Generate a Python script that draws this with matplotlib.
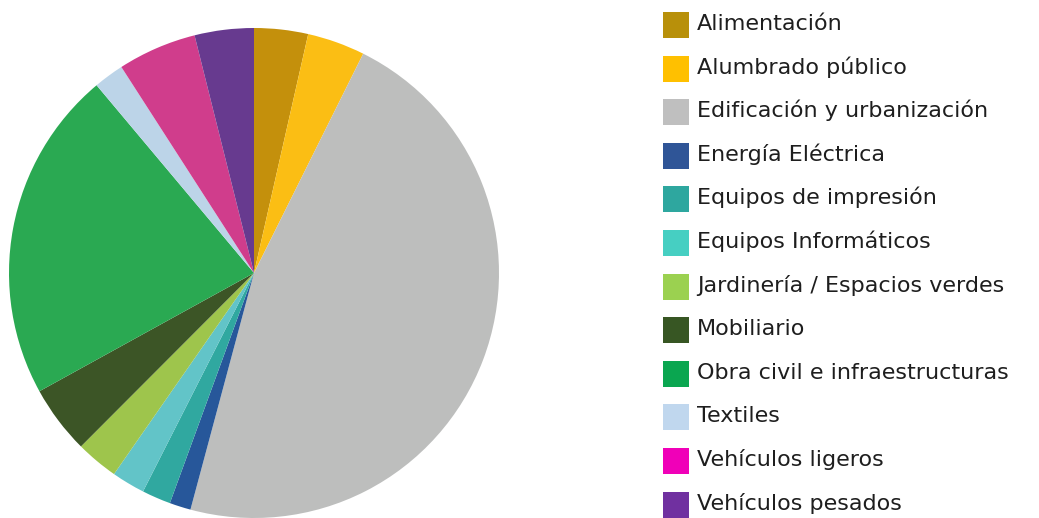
import matplotlib.pyplot as plt
from matplotlib.patches import Rectangle

# data
categorias = ['Alimentación', 'Alumbrado público', 'Edificación y urbanización',
              'Energía Eléctrica', 'Equipos de impresión', 'Equipos Informáticos',
              'Jardinería / Espacios verdes', 'Mobiliario', 'Obra civil e infraestructuras',
              'Textiles', 'Vehículos ligeros', 'Vehículos pesados']
porcentajes = [3.55, 3.8, 46.8, 1.4, 1.9, 2.2, 2.8, 4.5, 21.9, 2.0, 5.2, 3.9]

colores_pie = ['#c4900c', '#fbbe14', '#bdbebd', '#27579a', '#30a8a0', '#62c4c8',
               '#9ec54c', '#3c5526', '#2aa952', '#bcd4e8', '#d03d8c', '#673a8f']
colores_leyenda = ['#b8900a', '#ffc000', '#bfbfbf', '#2f5597', '#2ea79f', '#46cfc2',
                   '#9bd150', '#375623', '#0aa650', '#c0d7ee', '#f000b8', '#7030a0']

W, H = 1039, 518
fig = plt.figure(figsize=(W / 100, H / 100), dpi=100)

# pie: center (254, 273) px, radius 245 px
cx, cy, r = 254, 273, 245
ax = fig.add_axes([(cx - r) / W, (H - cy - r) / H, 2 * r / W, 2 * r / H])
ax.pie(porcentajes, colors=colores_pie, startangle=90, counterclock=False,
       radius=1, wedgeprops=dict(linewidth=0))
ax.set_xlim(-1, 1)
ax.set_ylim(-1, 1)
ax.set_aspect('equal')
ax.axis('off')

# legend (pixel positions measured from top)
for i, (lab, col) in enumerate(zip(categorias, colores_leyenda)):
    yc = 25 + 43.6 * i
    fig.patches.append(Rectangle((663 / W, (H - yc - 13) / H), 26 / W, 26 / H,
                                 transform=fig.transFigure, facecolor=col, edgecolor='none'))
    fig.text(697 / W, (H - yc - 5) / H, lab, fontsize=16, family='DejaVu Sans',
             color='#1e1e1e', va='baseline', ha='left')

fig.savefig('out.png', dpi=100)
